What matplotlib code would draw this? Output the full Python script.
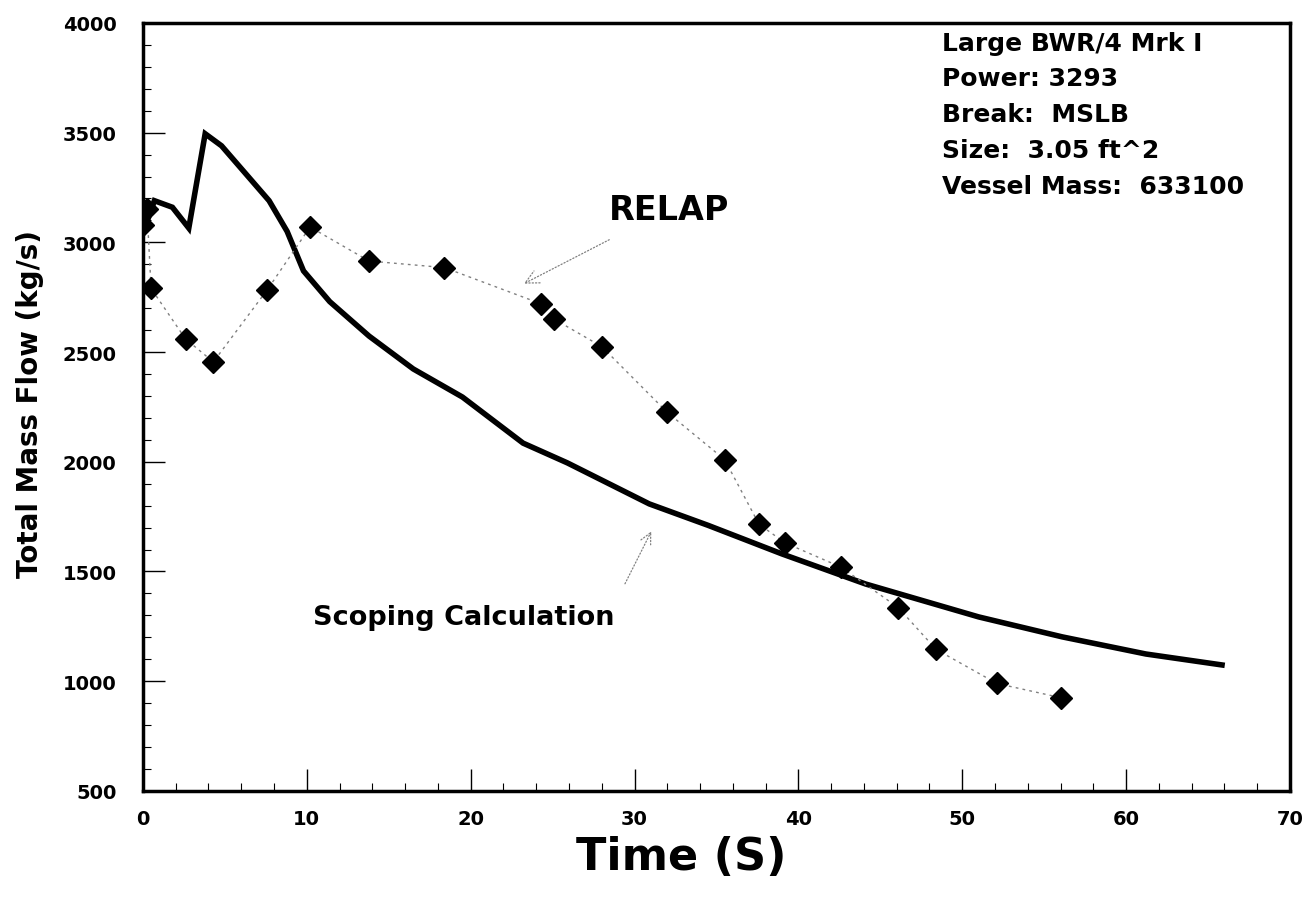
import matplotlib.pyplot as plt
from matplotlib.ticker import MultipleLocator

# scoping calculation (solid line)
scope_t = [0.05, 0.7, 1.8, 2.8, 3.8, 4.8, 7.7, 8.8, 9.8, 11.4, 13.8, 16.5, 19.5,
           23.2, 25.9, 30.9, 34.5, 39.0, 44.1, 51.0, 56.1, 61.2, 65.85]
scope_w = [3050, 3190, 3160, 3065, 3495, 3440, 3190, 3050, 2870, 2730, 2573, 2423, 2295,
           2085, 1995, 1808, 1710, 1580, 1443, 1293, 1202, 1124, 1074]

# RELAP results (diamonds)
relap_t = [0.0, 0.25, 0.5, 2.6, 4.3, 7.6, 10.2, 13.8, 18.4, 24.3, 25.1, 28.0, 32.0,
           35.5, 37.6, 39.2, 42.6, 46.1, 48.4, 52.1, 56.0]
relap_w = [3080, 3150, 2790, 2560, 2455, 2785, 3070, 2915, 2885, 2720, 2650, 2525, 2225,
           2010, 1715, 1630, 1520, 1335, 1145, 990, 925]

info = "Large BWR/4 Mrk I\nPower: 3293\nBreak:  MSLB\nSize:  3.05 ft^2\nVessel Mass:  633100"

plt.rcParams['font.family'] = 'DejaVu Sans'
plt.rcParams['font.weight'] = 'bold'

fig = plt.figure(figsize=(13.11, 9.04), dpi=100)
ax = fig.add_axes([0.109, 0.124, 0.875, 0.8495])

ax.plot(relap_t, relap_w, color='0.5', lw=1, ls=(0, (2, 3)),
        marker='D', ms=11, mfc='black', mec='black', zorder=3)
ax.plot(scope_t, scope_w, color='black', lw=4, solid_joinstyle='miter', zorder=2)

ax.set_xlim(0, 70)
ax.set_ylim(500, 4000)
ax.xaxis.set_major_locator(MultipleLocator(10))
ax.xaxis.set_minor_locator(MultipleLocator(2))
ax.yaxis.set_major_locator(MultipleLocator(500))
ax.yaxis.set_minor_locator(MultipleLocator(100))
ax.tick_params(which='major', direction='in', length=16, width=1, labelsize=14)
ax.tick_params(which='minor', direction='in', length=6, width=0.8)
ax.tick_params(axis='x', pad=13)
ax.tick_params(axis='y', pad=19)
for s in ax.spines.values():
    s.set_linewidth(2.5)

ax.set_xlabel("Time (S)", fontsize=32, fontweight='bold')
ax.set_ylabel("Total Mass Flow (kg/s)", fontsize=20, fontweight='bold')
ax.xaxis.set_label_coords(0.469, -0.058)
ax.yaxis.set_label_coords(-0.086, 0.505)

ax.text(0.697, 0.99, info, transform=ax.transAxes, fontsize=18, fontweight='bold',
        va='top', ha='left', linespacing=1.62)

ax.annotate("RELAP", xy=(23.1, 2806), xytext=(32.1, 3152), fontsize=24, fontweight='bold',
            ha='center', va='center',
            arrowprops=dict(arrowstyle='->', color='0.5', lw=0.9, ls=':', shrinkA=18))
ax.annotate("Scoping Calculation", xy=(31.1, 1694), xytext=(19.6, 1293), fontsize=19.5,
            fontweight='bold', ha='center', va='center',
            arrowprops=dict(arrowstyle='->', color='0.5', lw=0.9, ls=':', shrinkA=14,
                            relpos=(1.0, 1.0)))

plt.savefig("out.png", dpi=100)
